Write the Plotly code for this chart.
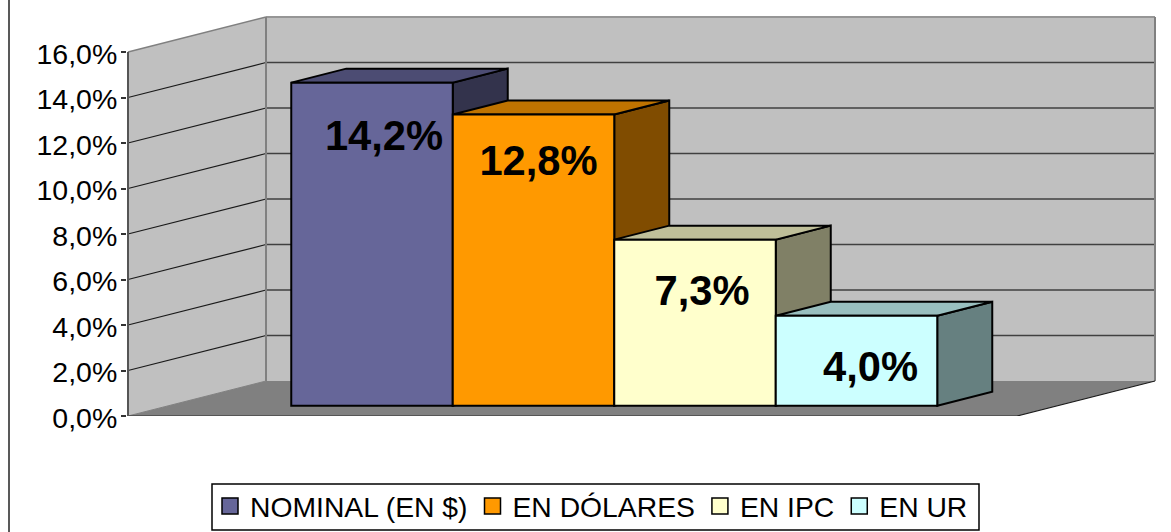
import plotly.graph_objects as go

CATEGORIES = ["NOMINAL (EN $)", "EN DÓLARES", "EN IPC", "EN UR"]
VALUES = [14.2, 12.8, 7.3, 3.95]
LABELS = ["14,2%", "12,8%", "7,3%", "4,0%"]
TICK_VALUES = [0, 2, 4, 6, 8, 10, 12, 14, 16]
TICK_LABELS = ["0,0%", "2,0%", "4,0%", "6,0%", "8,0%", "10,0%", "12,0%", "14,0%", "16,0%"]
COLORS = ["#666699", "#FF9900", "#FFFFCC", "#CCFFFF"]

# --- pixel geometry of the oblique projection -------------------------------
W, H = 1171, 532
PL, PR, PT, PB = 127, 1161, 10, 416      # plot area in pixels
Y0_PX, PX_PER_Y = 416.0, 22.75           # front plane: value 0 and scale
X0_PX, PX_PER_X = 372.0, 161.5           # centre of first bar, bar width


def sx(px):
    return (px - X0_PX) / PX_PER_X


def paper_x(px):
    return (px - PL) / (PR - PL)


def paper_y(px):
    return (PB - px) / (PB - PT)


WALL_L = sx(128)
FLOOR_R = sx(1017)
DEPTH_X, DEPTH_Y = 138 / PX_PER_X, 35 / PX_PER_Y   # floor depth, in data units
BAR_BASE = 10.3 / PX_PER_Y
BAR_DX, BAR_DY = 55 / PX_PER_X, 14 / PX_PER_Y      # bar depth, in data units
LABEL_NUDGE = [(12, 57), (5, 50), (7, 55), (14, 55)]  # label offset px (right, below top)


def poly(pts, fill=None, line=None, width=0):
    d = "M " + " L ".join(f"{x},{y}" for x, y in pts) + " Z"
    return dict(type="path", path=d, xref="x", yref="y", layer="below",
                fillcolor=fill or "rgba(0,0,0,0)",
                line=dict(color=line or "rgba(0,0,0,0)", width=width))


def seg(x0, y0, x1, y1, color, width):
    return dict(type="line", x0=x0, y0=y0, x1=x1, y1=y1, xref="x", yref="y", layer="below",
                line=dict(color=color, width=width))


def shade(hex_color, f):
    r, g, b = (int(hex_color[i:i + 2], 16) for i in (1, 3, 5))
    return f"rgb({round(r * f)},{round(g * f)},{round(b * f)})"


TOP = max(TICK_VALUES)
BX, BY = WALL_L + DEPTH_X, DEPTH_Y       # back-left corner of the floor
BR = FLOOR_R + DEPTH_X                   # back-right corner

shapes = []
# back wall, left wall, floor
shapes.append(poly([(BX, BY), (BR, BY), (BR, BY + TOP), (BX, BY + TOP)], "#C0C0C0"))
shapes.append(poly([(WALL_L, 0), (BX, BY), (BX, BY + TOP), (WALL_L, TOP)], "#C0C0C0"))
shapes.append(poly([(WALL_L, 0), (FLOOR_R, 0), (BR, BY), (BX, BY)], "#808080"))
# gridlines
for t in TICK_VALUES[1:-1]:
    shapes.append(seg(WALL_L, t, BX, t + BY, "#1a1a1a", 1.2))
    shapes.append(seg(BX, t + BY, BR, t + BY, "#404040", 1.6))
# wall outlines
shapes.append(seg(WALL_L, TOP, BX, TOP + BY, "#808080", 1.5))
shapes.append(seg(BX, TOP + BY, BR, TOP + BY, "#969696", 2))
shapes.append(seg(BX, BY, BX, TOP + BY, "#808080", 2))
shapes.append(seg(BR, BY, BR, TOP + BY, "#808080", 2))
shapes.append(seg(WALL_L, 0, BX, BY, "#808080", 1))
shapes.append(seg(FLOOR_R, 0, BR, BY, "#1a1a1a", 1.2))
shapes.append(seg(WALL_L, 0, FLOOR_R, 0, "#555555", 2))
shapes.append(seg(WALL_L, 0, WALL_L, TOP, "#555555", 2))

# top and side faces of each bar (front faces are the bar trace)
for i, v in enumerate(VALUES):
    x0, x1 = i - 0.5, i + 0.5
    y0, y1 = BAR_BASE, BAR_BASE + v
    shapes.append(poly([(x1, y0), (x1 + BAR_DX, y0 + BAR_DY), (x1 + BAR_DX, y1 + BAR_DY), (x1, y1)],
                       shade(COLORS[i], 0.5), "black", 2))
    shapes.append(poly([(x0, y1), (x1, y1), (x1 + BAR_DX, y1 + BAR_DY), (x0 + BAR_DX, y1 + BAR_DY)],
                       shade(COLORS[i], 0.75), "black", 2))

# chart-area frame on the left
shapes.append(dict(type="line", xref="paper", yref="paper",
                   x0=paper_x(9), x1=paper_x(9), y0=paper_y(H), y1=paper_y(0),
                   line=dict(color="#222222", width=1.5)))
# legend box
shapes.append(dict(type="rect", xref="paper", yref="paper", layer="above",
                   x0=paper_x(212), x1=paper_x(979), y0=paper_y(530), y1=paper_y(484),
                   fillcolor="white", line=dict(color="black", width=1.5)))

fig = go.Figure()
fig.add_trace(go.Bar(x=list(range(len(VALUES))), y=VALUES, base=BAR_BASE, width=1,
                     marker=dict(color=COLORS, line=dict(color="black", width=2)),
                     showlegend=False, hoverinfo="skip"))
fig.add_trace(go.Scatter(
    x=[i + n[0] / PX_PER_X for i, n in enumerate(LABEL_NUDGE)],
    y=[BAR_BASE + v - n[1] / PX_PER_Y for v, n in zip(VALUES, LABEL_NUDGE)],
    text=LABELS, mode="text", textposition="middle center",
    textfont=dict(family="Liberation Sans", size=41.7, color="black", weight="bold"),
    showlegend=False, hoverinfo="skip"))
for name, color in zip(CATEGORIES, COLORS):
    fig.add_trace(go.Scatter(x=[None], y=[None], mode="markers", name=name,
                             marker=dict(symbol="square", size=17, color=color,
                                         line=dict(color="black", width=1.5))))

fig.update_layout(
    width=W, height=H,
    margin=dict(l=PL, r=W - PR, t=PT, b=H - PB, pad=0, autoexpand=False),
    paper_bgcolor="white", plot_bgcolor="white",
    shapes=shapes,
    barmode="overlay",
    font=dict(family="Liberation Sans", color="black"),
    xaxis=dict(range=[sx(PL), sx(PR)], visible=False, fixedrange=True),
    yaxis=dict(range=[0, (Y0_PX - PT) / PX_PER_Y], tickvals=TICK_VALUES, ticktext=TICK_LABELS,
               showgrid=False, zeroline=False, showline=False,
               ticks="outside", ticklen=5, tickwidth=1.5, tickcolor="#333333",
               ticklabelstandoff=-2, ticklabelshift=2,
               tickfont=dict(family="Liberation Sans", size=28.5, color="black"),
               fixedrange=True),
    legend=dict(orientation="h", x=paper_x(210), xanchor="left",
                y=paper_y(481), yanchor="top",
                bgcolor="rgba(0,0,0,0)", borderwidth=0,
                font=dict(family="Liberation Sans", size=28.3, color="black")),
    hovermode=False,
)
fig.write_html("out.html", config=dict(displayModeBar=False),
               post_script="document.body.style.margin='0';")
